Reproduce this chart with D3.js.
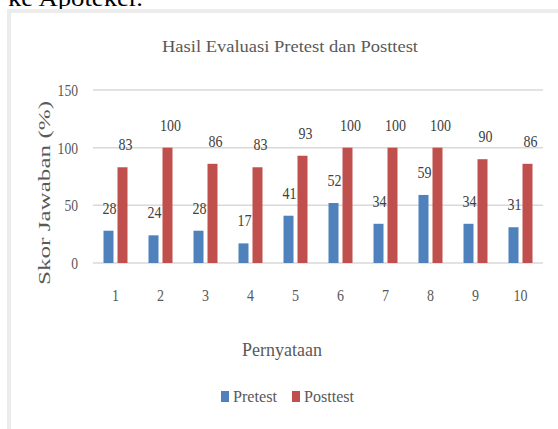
<!DOCTYPE html>
<html>
<head>
<meta charset="utf-8">
<script src="https://cdn.jsdelivr.net/npm/d3@7"></script>
<style>
  body { margin: 0; background: #fff; }
  text { font-family: 'Liberation Serif', 'Times New Roman', serif; }
</style>
</head>
<body>
<script>
// data
var categories = ['1', '2', '3', '4', '5', '6', '7', '8', '9', '10'];
var series = ['Pretest', 'Posttest'];
var pretest = [28, 24, 28, 17, 41, 52, 34, 59, 34, 31];
var posttest = [83, 100, 86, 83, 93, 100, 100, 100, 90, 86];
var yTicks = [0, 50, 100, 150];

var width = 558,
    height = 429,
    colors = ['#4f81bd', '#c0504d'],
    textColor = '#595959';

var svg = d3.select('body').append('svg')
    .attr('width', width)
    .attr('height', height);

// page text cut off above the figure
svg.append('text')
    .attr('x', 8)
    .attr('y', 6)
    .attr('font-size', 24)
    .attr('textLength', 135)
    .attr('lengthAdjust', 'spacingAndGlyphs')
    .attr('fill', '#000')
    .text('ke Apoteker.');

// chart frame
svg.append('rect')
    .attr('x', 9)
    .attr('y', 11)
    .attr('width', 700)
    .attr('height', 600)
    .attr('fill', 'none')
    .attr('stroke', '#ececec')
    .attr('stroke-width', 4);

var x0 = d3.scaleBand()
    .domain(categories)
    .range([93, 543])
    .paddingInner(21 / 45)
    .paddingOuter(10.5 / 45);

var x1 = d3.scaleBand()
    .domain(series)
    .range([0, x0.bandwidth()])
    .paddingInner(0.2857);

var y = d3.scaleLinear()
    .domain([0, 150])
    .range([263, 90]);

// gridlines
svg.append('g').selectAll('line')
    .data(yTicks)
    .enter().append('line')
    .attr('x1', 93)
    .attr('x2', 543)
    .attr('y1', function (d) { return y(d); })
    .attr('y2', function (d) { return y(d); })
    .attr('stroke', '#d9d9d9')
    .attr('stroke-width', 1.5);

// y tick labels
svg.append('g').selectAll('text')
    .data(yTicks)
    .enter().append('text')
    .attr('x', 78)
    .attr('y', function (d) { return y(d) + 6; })
    .attr('text-anchor', 'end')
    .attr('font-size', 17)
    .attr('textLength', function (d) { return String(d).length * 6.8; })
    .attr('lengthAdjust', 'spacingAndGlyphs')
    .attr('fill', textColor)
    .text(function (d) { return d; });

// x tick labels
svg.append('g').selectAll('text')
    .data(categories)
    .enter().append('text')
    .attr('x', function (d) { return x0(d) + x0.bandwidth() / 2; })
    .attr('y', 301)
    .attr('text-anchor', 'middle')
    .attr('font-size', 17)
    .attr('textLength', function (d) { return d.length * 7; })
    .attr('lengthAdjust', 'spacingAndGlyphs')
    .attr('fill', textColor)
    .text(function (d) { return d; });

var rows = categories.map(function (c, i) {
    return { cat: c, values: [pretest[i], posttest[i]] };
});

var group = svg.append('g').selectAll('g')
    .data(rows)
    .enter().append('g')
    .attr('transform', function (d) { return 'translate(' + x0(d.cat) + ',0)'; });

var cells = group.selectAll('g')
    .data(function (d) {
        return d.values.map(function (v, j) { return { key: series[j], value: v, j: j }; });
    })
    .enter().append('g');

cells.append('rect')
    .attr('x', function (d) { return x1(d.key); })
    .attr('y', function (d) { return y(d.value); })
    .attr('width', x1.bandwidth())
    .attr('height', function (d) { return y(0) - y(d.value); })
    .attr('fill', function (d) { return colors[d.j]; });

// value labels
cells.append('text')
    .attr('x', function (d) { return x1(d.key) + x1.bandwidth() / 2 + (d.j ? 3 : 1); })
    .attr('y', function (d) { return y(d.value) - 17; })
    .attr('text-anchor', 'middle')
    .attr('font-size', 17)
    .attr('textLength', function (d) { return String(d.value).length * 7; })
    .attr('lengthAdjust', 'spacingAndGlyphs')
    .attr('fill', '#404040')
    .text(function (d) { return d.value; });

// title
svg.append('text')
    .attr('x', 290)
    .attr('y', 52)
    .attr('text-anchor', 'middle')
    .attr('font-size', 16)
    .attr('textLength', 256)
    .attr('lengthAdjust', 'spacingAndGlyphs')
    .attr('fill', textColor)
    .text('Hasil Evaluasi Pretest dan Posttest');

// y axis title
svg.append('text')
    .attr('transform', 'translate(50,193) rotate(-90)')
    .attr('text-anchor', 'middle')
    .attr('font-size', 16)
    .attr('textLength', 184)
    .attr('lengthAdjust', 'spacingAndGlyphs')
    .attr('fill', textColor)
    .text('Skor Jawaban (%)');

// x axis title
svg.append('text')
    .attr('x', 282)
    .attr('y', 356)
    .attr('text-anchor', 'middle')
    .attr('font-size', 18)
    .attr('textLength', 80)
    .attr('lengthAdjust', 'spacingAndGlyphs')
    .attr('fill', textColor)
    .text('Pernyataan');

// legend
var legendX = [221, 292],
    legendW = [44, 50];
var legend = svg.append('g').selectAll('g')
    .data(series)
    .enter().append('g')
    .attr('transform', function (d, i) { return 'translate(' + legendX[i] + ',391)'; });

legend.append('rect')
    .attr('width', 8)
    .attr('height', 11)
    .attr('fill', function (d, i) { return colors[i]; });

legend.append('text')
    .attr('x', 12)
    .attr('y', 11)
    .attr('font-size', 16)
    .attr('textLength', function (d, i) { return legendW[i]; })
    .attr('lengthAdjust', 'spacingAndGlyphs')
    .attr('fill', textColor)
    .text(function (d) { return d; });
</script>
</body>
</html>
